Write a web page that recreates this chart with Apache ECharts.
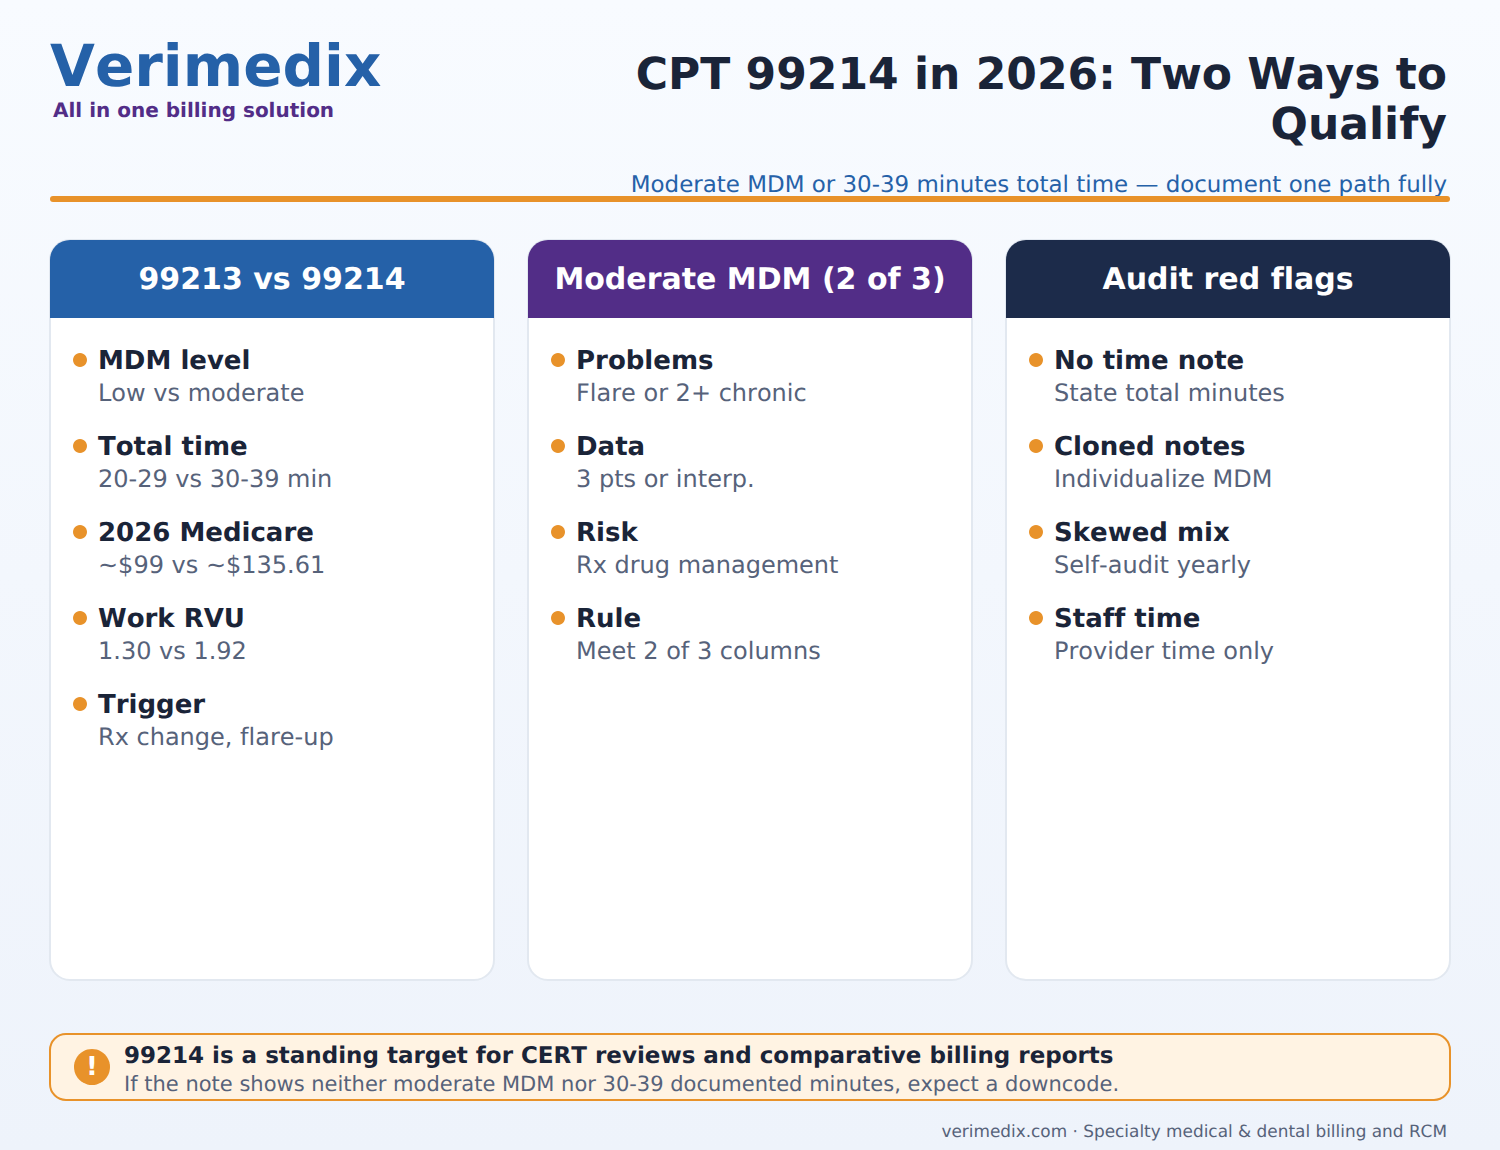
<!DOCTYPE html>
<html>
<head>
<meta charset="utf-8">
<title>CPT 99214 in 2026</title>
<style>
html, body { margin: 0; padding: 0; }
#chart { width: 1500px; height: 1150px; }
#chart text { font-variant-ligatures: none; font-kerning: none; text-rendering: geometricPrecision; }
</style>
<script src="https://cdn.jsdelivr.net/npm/echarts@6/dist/echarts.min.js"></script>
</head>
<body>
<div id="chart"></div>
<script>
var brand = 'Verimedix';
var tagline = 'All in one billing solution';
var titleLines = ['CPT 99214 in 2026: Two Ways to', 'Qualify'];
var subtitle = 'Moderate MDM or 30-39 minutes total time \u2014 document one path fully';
var cardTitles = ['99213 vs 99214', 'Moderate MDM (2 of 3)', 'Audit red flags'];
var cardColors = ['#2561a8', '#522d87', '#1c2b4a'];
var card1Labels = ['MDM level', 'Total time', '2026 Medicare', 'Work RVU', 'Trigger'];
var card1Notes = ['Low vs moderate', '20-29 vs 30-39 min', '~$99 vs ~$135.61', '1.30 vs 1.92', 'Rx change, flare-up'];
var card2Labels = ['Problems', 'Data', 'Risk', 'Rule'];
var card2Notes = ['Flare or 2+ chronic', '3 pts or interp.', 'Rx drug management', 'Meet 2 of 3 columns'];
var card3Labels = ['No time note', 'Cloned notes', 'Skewed mix', 'Staff time'];
var card3Notes = ['State total minutes', 'Individualize MDM', 'Self-audit yearly', 'Provider time only'];
var bannerTitle = '99214 is a standing target for CERT reviews and comparative billing reports';
var bannerNote = 'If the note shows neither moderate MDM nor 30-39 documented minutes, expect a downcode.';
var footer = 'verimedix.com \u00b7 Specialty medical & dental billing and RCM';

var FONT = '"DejaVu Sans", sans-serif';
var ORANGE = '#e8922a';
var INK = '#1a2438';
var GREY = '#56627a';

function txt(x, y, s, size, color, bold, align) {
    return {
        type: 'text', x: x, y: y, silent: true,
        style: {
            text: s, fontFamily: FONT, fontSize: size, fontWeight: bold ? 'bold' : 'normal',
            fill: color, align: align || 'left', verticalAlign: 'middle'
        }
    };
}

var els = [];
els.push(txt(50, 66, brand, 58, '#2561a8', true));
els.push(txt(53, 109.5, tagline, 20, '#522d87', true));
els.push(txt(1447, 74, titleLines[0], 44, INK, true, 'right'));
els.push(txt(1447, 124, titleLines[1], 44, INK, true, 'right'));
els.push(txt(1447, 185, subtitle, 22.95, '#2561a8', false, 'right'));
els.push({ type: 'rect', silent: true, shape: { x: 50, y: 196, width: 1400, height: 6, r: 3 }, style: { fill: ORANGE } });

var cardX = [50, 528, 1006];
var cardLabels = [card1Labels, card2Labels, card3Labels];
var cardNotes = [card1Notes, card2Notes, card3Notes];
for (var c = 0; c < 3; c++) {
    var x = cardX[c];
    els.push({ type: 'rect', silent: true, shape: { x: x, y: 240, width: 444, height: 740, r: 20 }, style: { fill: '#ffffff', stroke: '#e2e8f0', lineWidth: 2 } });
    els.push({ type: 'rect', silent: true, shape: { x: x, y: 240, width: 444, height: 78, r: [20, 20, 0, 0] }, style: { fill: cardColors[c] } });
    els.push(txt(x + 222, 279, cardTitles[c], 30, '#ffffff', true, 'center'));
    for (var i = 0; i < cardLabels[c].length; i++) {
        var y = 361 + i * 86;
        els.push({ type: 'circle', silent: true, shape: { cx: x + 30, cy: y - 1, r: 7 }, style: { fill: ORANGE } });
        els.push(txt(x + 48, y, cardLabels[c][i], 26, INK, true));
        els.push(txt(x + 48, y + 32, cardNotes[c][i], 24, GREY, false));
    }
}

els.push({ type: 'rect', silent: true, shape: { x: 50, y: 1034, width: 1400, height: 66, r: 16 }, style: { fill: '#fff3e3', stroke: ORANGE, lineWidth: 2 } });
els.push({ type: 'circle', silent: true, shape: { cx: 92, cy: 1067, r: 18 }, style: { fill: ORANGE } });
els.push(txt(92, 1067, '!', 26, '#ffffff', true, 'center'));
els.push(txt(124, 1056, bannerTitle, 23, INK, true));
els.push(txt(124, 1084, bannerNote, 21, GREY, false));
els.push(txt(1447, 1131, footer, 16.9, GREY, false, 'right'));

var chart = echarts.init(document.getElementById('chart'), null, { renderer: 'svg' });
chart.setOption({
    backgroundColor: {
        type: 'linear', x: 0, y: 0, x2: 0, y2: 1,
        colorStops: [{ offset: 0, color: '#f8fbff' }, { offset: 1, color: '#eef3fb' }]
    },
    animation: false,
    graphic: { elements: els }
});
</script>
</body>
</html>
